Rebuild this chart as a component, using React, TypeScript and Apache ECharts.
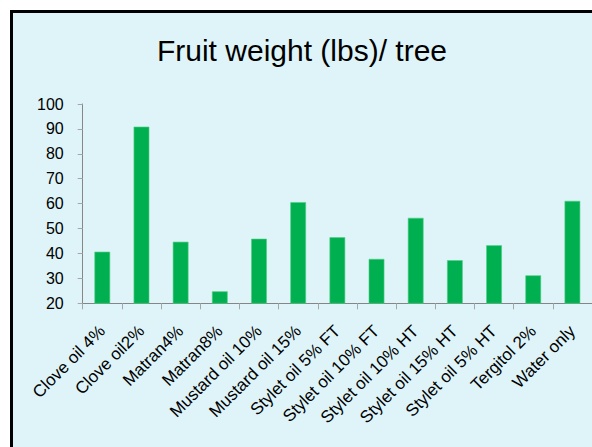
import React, { useEffect, useRef } from "react";
import * as echarts from "echarts";

const categories = [
  "Clove oil 4%",
  "Clove oil2%",
  "Matran4%",
  "Matran8%",
  "Mustard oil 10%",
  "Mustard oil 15%",
  "Stylet oil 5% FT",
  "Stylet oil 10% FT",
  "Stylet oil 10% HT",
  "Stylet oil 15% HT",
  "Stylet oil 5% HT",
  "Tergitol 2%",
  "Water only",
];
const weights = [40.7, 90.9, 44.7, 24.8, 45.9, 60.6, 46.5, 37.8, 54.3, 37.3, 43.3, 31.2, 61.1];
const titleText = "Fruit weight (lbs)/ tree";
const yMin = 20;
const yMax = 100;
const yStep = 10;

const FONT = "'Liberation Sans', Arial, sans-serif";

export default function App() {
  const ref = useRef<HTMLDivElement>(null);
  useEffect(() => {
    if (!ref.current) return;
    const chart = echarts.init(ref.current, undefined, { renderer: "svg" });
    chart.setOption({
      animation: false,
      backgroundColor: "#ffffff",
      textStyle: { fontFamily: FONT },
      graphic: [
        {
          type: "rect",
          z: -10,
          silent: true,
          shape: { x: 11.5, y: 11.5, width: 700, height: 600 },
          style: { fill: "#def4f9", stroke: "#000000", lineWidth: 3 },
        },
      ],
      title: {
        text: titleText,
        left: 297,
        textAlign: "center",
        top: 30,
        textStyle: { fontFamily: FONT, fontSize: 30, fontWeight: "normal", color: "#000000" },
      },
      grid: { left: 82.7, right: 0, top: 104, bottom: 143.7, containLabel: false },
      xAxis: {
        type: "category",
        data: categories,
        axisLine: { lineStyle: { color: "#868686", width: 1 } },
        axisTick: { show: true, length: 6, lineStyle: { color: "#a6a6a6" } },
        axisLabel: {
          interval: 0,
          rotate: 45,
          margin: 25,
          fontSize: 17,
          color: "#000000",
          fontFamily: FONT,
        },
      },
      yAxis: {
        type: "value",
        min: yMin,
        max: yMax,
        interval: yStep,
        axisLine: { show: true, lineStyle: { color: "#868686", width: 1 } },
        axisTick: { show: true, length: 5, lineStyle: { color: "#a6a6a6" } },
        splitLine: { show: false },
        axisLabel: { margin: 19, fontSize: 16, color: "#000000", fontFamily: FONT },
      },
      series: [
        {
          type: "bar",
          data: weights,
          barWidth: "40%",
          itemStyle: { color: "#00b050", borderColor: "#4fcf85", borderWidth: 0.6 },
        },
      ],
    });
    return () => chart.dispose();
  }, []);
  return (
    <div style={{ position: "absolute", left: 0, top: 0, width: 592, height: 447, background: "#fff" }}>
      <div ref={ref} style={{ width: 592, height: 447 }} />
    </div>
  );
}
